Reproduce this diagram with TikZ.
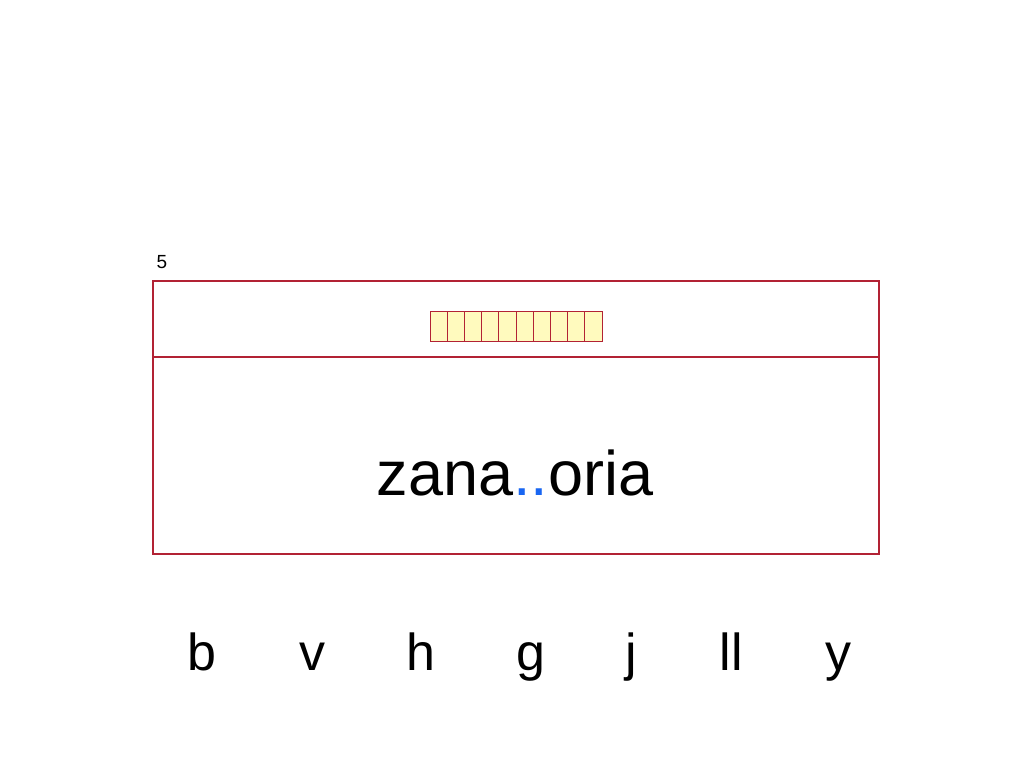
\documentclass[tikz,border=0pt]{standalone}
\usepackage{fontspec}
\setmainfont{Liberation Sans}
\begin{document}
\begin{tikzpicture}[x=1pt,y=-1pt,
  frame/.style={draw={rgb,255:red,178;green,34;blue,52},line width=1.2pt},
  cell/.style={draw={rgb,255:red,178;green,34;blue,52},fill={rgb,255:red,255;green,250;blue,190},line width=1pt},
  letter/.style={font=\fontsize{52}{52}\selectfont,anchor=base}]
\useasboundingbox (0,0) rectangle (1024,768);
\fill[white] (0,0) rectangle (1024,768);
\node[font=\fontsize{19}{19}\selectfont] (n5) at (162,262) {5};
\draw[frame] (153,281) rectangle (879,554);
\draw[frame] (153,357) -- (879,357);
\foreach \i in {0,...,9}{
  \draw[cell] ({430+\i*17.2},311) rectangle ({430+(\i+1)*17.2},341);
}
\node[font=\fontsize{63}{63}\selectfont,anchor=base] (w) at (515,495) {zana\textcolor[rgb]{0.1,0.4,0.95}{..}oria};
\node[letter] (b) at (202,670) {b};
\node[letter] (v) at (312,670) {v};
\node[letter] (h) at (421,670) {h};
\node[letter] (g) at (531,670) {g};
\node[letter] (j) at (631,670) {j};
\node[letter] (ll) at (731,670) {ll};
\node[letter] (y) at (838,670) {y};
\end{tikzpicture}
\end{document}
